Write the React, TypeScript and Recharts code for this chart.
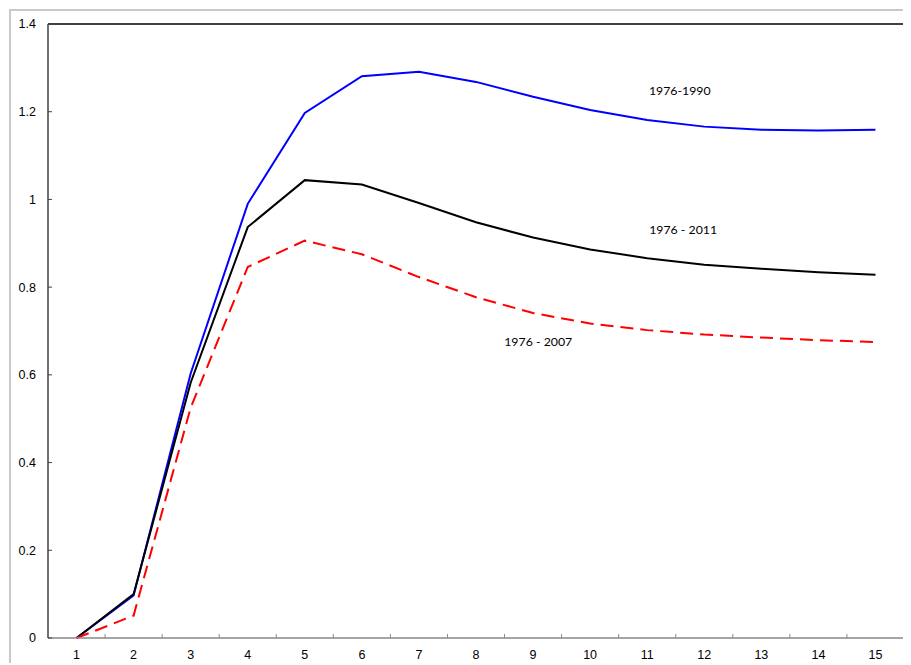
import React from "react";
import { LineChart, Line, XAxis, YAxis, ReferenceLine, ReferenceDot } from "recharts";

const periods = [1, 2, 3, 4, 5, 6, 7, 8, 9, 10, 11, 12, 13, 14, 15];
const s1976_1990 = [0, 0.097, 0.603, 0.99, 1.197, 1.281, 1.291, 1.268, 1.234, 1.204, 1.181, 1.166, 1.159, 1.157, 1.159];
const s1976_2011 = [0, 0.1, 0.582, 0.937, 1.044, 1.034, 0.992, 0.948, 0.913, 0.886, 0.866, 0.851, 0.842, 0.834, 0.828];
const s1976_2007 = [0, 0.051, 0.525, 0.846, 0.906, 0.875, 0.823, 0.777, 0.741, 0.717, 0.702, 0.692, 0.685, 0.679, 0.675];
const yTicks = [0, 0.2, 0.4, 0.6, 0.8, 1, 1.2, 1.4];
const catBoundaries = [1.5, 2.5, 3.5, 4.5, 5.5, 6.5, 7.5, 8.5, 9.5, 10.5, 11.5, 12.5, 13.5, 14.5];

const data = periods.map((p, i) => ({
  p,
  a: s1976_1990[i],
  b: s1976_2011[i],
  c: s1976_2007[i],
}));

const tickFont = { fontFamily: "Liberation Sans, Arial, sans-serif", fontSize: 12.5, fill: "#000" };
const lblFont = { fontFamily: "Lato, sans-serif", fontSize: 12.3, fill: "#000" };

export default function App() {
  return (
    <div
      style={{
        borderTop: "2px solid #c8c8c8",
        borderLeft: "2px solid #c8c8c8",
        marginTop: 1,
        marginLeft: 1,
        width: 899,
        height: 652,
      }}
    >
      <LineChart width={897} height={652} data={data} margin={{ top: 13, right: 4, left: 0, bottom: 0 }}>
        <XAxis
          dataKey="p"
          type="number"
          domain={[0.5, 15.5]}
          ticks={periods}
          interval={0}
          tickLine={false}
          tickSize={6}
          tickMargin={6}
          height={25}
          axisLine={{ stroke: "#888", strokeWidth: 1.5 }}
          tick={tickFont}
        />
        <YAxis
          type="number"
          domain={[0, 1.4]}
          ticks={yTicks}
          interval={0}
          width={37}
          tickSize={-4}
          tickMargin={16}
          tickLine={{ stroke: "#404040" }}
          axisLine={{ stroke: "#404040", strokeWidth: 1.5 }}
          tick={tickFont}
        />
        <ReferenceLine y={1.4} stroke="#000" strokeWidth={1.5} />
        <ReferenceLine x={15.5} stroke="#000" strokeWidth={1.5} />
        {catBoundaries.map((b) => (
          <ReferenceLine
            key={b}
            segment={[
              { x: b, y: 0 },
              { x: b, y: 0.009 },
            ]}
            stroke="#888"
          />
        ))}
        <Line type="linear" dataKey="a" stroke="#0000ff" strokeWidth={2} dot={false} isAnimationActive={false} />
        <Line type="linear" dataKey="b" stroke="#000000" strokeWidth={2} dot={false} isAnimationActive={false} />
        <Line
          type="linear"
          dataKey="c"
          stroke="#ff0000"
          strokeWidth={2}
          strokeDasharray="13 7"
          dot={false}
          isAnimationActive={false}
        />
        <ReferenceDot x={11.57} y={1.249} r={2} fill="none" stroke="none" label={{ value: "1976-1990", position: "center", ...lblFont }} />
        <ReferenceDot x={11.63} y={0.932} r={2} fill="none" stroke="none" label={{ value: "1976 - 2011", position: "center", ...lblFont }} />
        <ReferenceDot x={9.09} y={0.675} r={2} fill="none" stroke="none" label={{ value: "1976 - 2007", position: "center", ...lblFont }} />
      </LineChart>
    </div>
  );
}
